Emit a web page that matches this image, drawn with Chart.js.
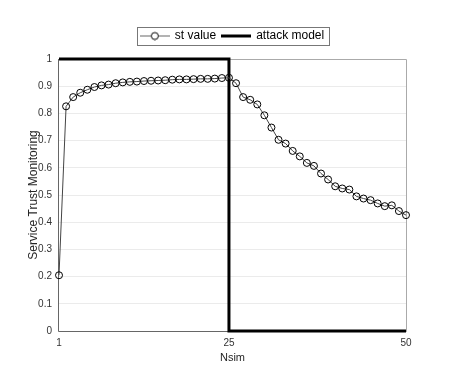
<!doctype html>
<html lang="en">
<head>
  <meta charset="utf-8">
  <title>Service Trust Monitoring</title>
  <style>
    * { margin: 0; padding: 0; }
    body { background: white; }
    .chartBox { width: 449px; height: 368px; position: relative; }
  </style>
</head>
<body>
<div class="chartBox">
  <canvas id="myChart"></canvas>
</div>

<script src="https://cdn.jsdelivr.net/npm/chart.js"></script>
<script>
  // data
  const nsim = [1, 2, 3, 4, 5, 6, 7, 8, 9, 10, 11, 12, 13, 14, 15, 16, 17, 18, 19, 20, 21, 22, 23, 24, 25,
                26, 27, 28, 29, 30, 31, 32, 33, 34, 35, 36, 37, 38, 39, 40, 41, 42, 43, 44, 45, 46, 47, 48, 49, 50];
  const stValue = [0.205, 0.826, 0.860, 0.876, 0.887, 0.897, 0.903, 0.906, 0.911, 0.914,
                   0.916, 0.917, 0.919, 0.920, 0.921, 0.922, 0.924, 0.925, 0.925, 0.926,
                   0.927, 0.927, 0.928, 0.930, 0.931,
                   0.911, 0.860, 0.850, 0.833, 0.793, 0.748, 0.703, 0.689, 0.662, 0.642,
                   0.618, 0.607, 0.579, 0.557, 0.532, 0.524, 0.520, 0.495, 0.487, 0.481,
                   0.469, 0.459, 0.462, 0.441, 0.426];
  const attackX = [1, 25, 25, 50];
  const attackY = [1, 1, 0, 0];
  const xTicks = [1, 25, 50];
  const seriesNames = ['st value', 'attack model'];

  const fontFamily = '"Liberation Sans", Arial, sans-serif';

  // legend icons (line + marker like the original)
  function makeIcon(kind) {
    const c = document.createElement('canvas');
    c.width = 30; c.height = 10;
    const g = c.getContext('2d');
    if (kind === 'st') {
      g.strokeStyle = '#666'; g.lineWidth = 1;
      g.beginPath(); g.moveTo(0, 5.5); g.lineTo(30, 5.5); g.stroke();
      g.fillStyle = 'white'; g.strokeStyle = 'black';
      g.beginPath(); g.arc(15, 5.5, 3.5, 0, Math.PI * 2); g.fill(); g.stroke();
    } else {
      g.strokeStyle = 'black'; g.lineWidth = 3;
      g.beginPath(); g.moveTo(0, 5.5); g.lineTo(30, 5.5); g.stroke();
    }
    return c;
  }
  const icons = [makeIcon('st'), makeIcon('attack')];

  const data = {
    datasets: [{
      label: seriesNames[0],
      data: nsim.map((x, i) => ({ x: x, y: stValue[i] })),
      borderColor: '#444',
      borderWidth: 1,
      pointRadius: 3.5,
      pointBorderColor: 'black',
      pointBackgroundColor: 'rgba(255,255,255,0)',
      pointBorderWidth: 1,
      clip: 5,
      tension: 0
    }, {
      label: seriesNames[1],
      data: attackX.map((x, i) => ({ x: x, y: attackY[i] })),
      borderColor: 'black',
      borderWidth: 3,
      pointRadius: 0,
      clip: 3,
      tension: 0
    }]
  };

  // extra room under the legend
  const legendMargin = {
    id: 'legendMargin',
    beforeInit(chart) {
      const fit = chart.legend.fit;
      chart.legend.fit = function () {
        fit.bind(chart.legend)();
        this.height += 7.5;
      };
    }
  };

  // axes box and legend border
  const frame = {
    id: 'frame',
    beforeDatasetsDraw(chart) {
      const ctx = chart.ctx;
      const a = chart.chartArea;
      ctx.save();
      ctx.lineWidth = 1;
      ctx.strokeStyle = '#aaa';
      ctx.beginPath();
      ctx.moveTo(a.left, a.top + 0.5); ctx.lineTo(a.right + 0.5, a.top + 0.5); ctx.lineTo(a.right + 0.5, a.bottom);
      ctx.stroke();
      ctx.strokeStyle = '#666';
      ctx.beginPath();
      ctx.moveTo(a.left - 0.5, a.top); ctx.lineTo(a.left - 0.5, a.bottom + 0.5); ctx.lineTo(a.right + 0.5, a.bottom + 0.5);
      ctx.stroke();
      ctx.restore();
    },
    afterDraw(chart) {
      const ctx = chart.ctx;
      const boxes = chart.legend.legendHitBoxes;
      if (boxes && boxes.length) {
        let l = Infinity, r = -Infinity, t = Infinity, b = -Infinity;
        boxes.forEach(h => {
          l = Math.min(l, h.left); r = Math.max(r, h.left + h.width);
          t = Math.min(t, h.top); b = Math.max(b, h.top + h.height);
        });
        ctx.save();
        ctx.lineWidth = 1;
        ctx.strokeStyle = '#777';
        ctx.strokeRect(Math.round(l - 4) + 0.5, Math.round(t - 3) + 0.5, Math.round(r - l + 9), Math.round(b - t + 6));
        ctx.restore();
      }
    }
  };

  const config = {
    type: 'line',
    data,
    options: {
      responsive: true,
      maintainAspectRatio: false,
      animation: false,
      layout: { padding: { top: 23.5, left: 26, right: 43, bottom: 0 } },
      scales: {
        x: {
          type: 'linear',
          min: 1,
          max: 50,
          afterBuildTicks: (scale) => { scale.ticks = xTicks.map(v => ({ value: v })); },
          afterFit: (scale) => { scale.height = 37; },
          grid: { display: false, drawTicks: false },
          border: { display: false },
          ticks: { color: '#333', padding: 6, maxRotation: 0, font: { family: fontFamily, size: 10 } },
          title: { display: true, text: 'Nsim', color: '#262626', padding: { top: 0, bottom: 3 }, font: { family: fontFamily, size: 11 } }
        },
        y: {
          min: 0,
          max: 1,
          afterFit: (scale) => { scale.width = 33; },
          grid: { color: '#ebebeb', drawTicks: false },
          border: { display: false },
          ticks: { stepSize: 0.1, color: '#333', padding: 7, font: { family: fontFamily, size: 10 },
                   callback: (v) => Number(v.toFixed(1)).toString() },
          title: { display: true, text: 'Service Trust Monitoring', color: '#262626', padding: { top: 0, bottom: 0 }, font: { family: fontFamily, size: 12 } }
        }
      },
      plugins: {
        legend: {
          display: true,
          position: 'top',
          fullSize: false,
          labels: {
            color: 'black',
            usePointStyle: true,
            pointStyleWidth: 28,
            padding: 6,
            font: { family: fontFamily, size: 12 },
            generateLabels: (chart) => chart.data.datasets.map((ds, i) => ({
              text: ds.label,
              datasetIndex: i,
              pointStyle: icons[i],
              fontColor: 'black',
              hidden: false,
              lineWidth: 0,
              strokeStyle: 'rgba(0,0,0,0)',
              fillStyle: 'rgba(0,0,0,0)'
            }))
          }
        },
        tooltip: { enabled: false }
      }
    },
    plugins: [legendMargin, frame]
  };

  const myChart = new Chart(document.getElementById('myChart'), config);
</script>
</body>
</html>
